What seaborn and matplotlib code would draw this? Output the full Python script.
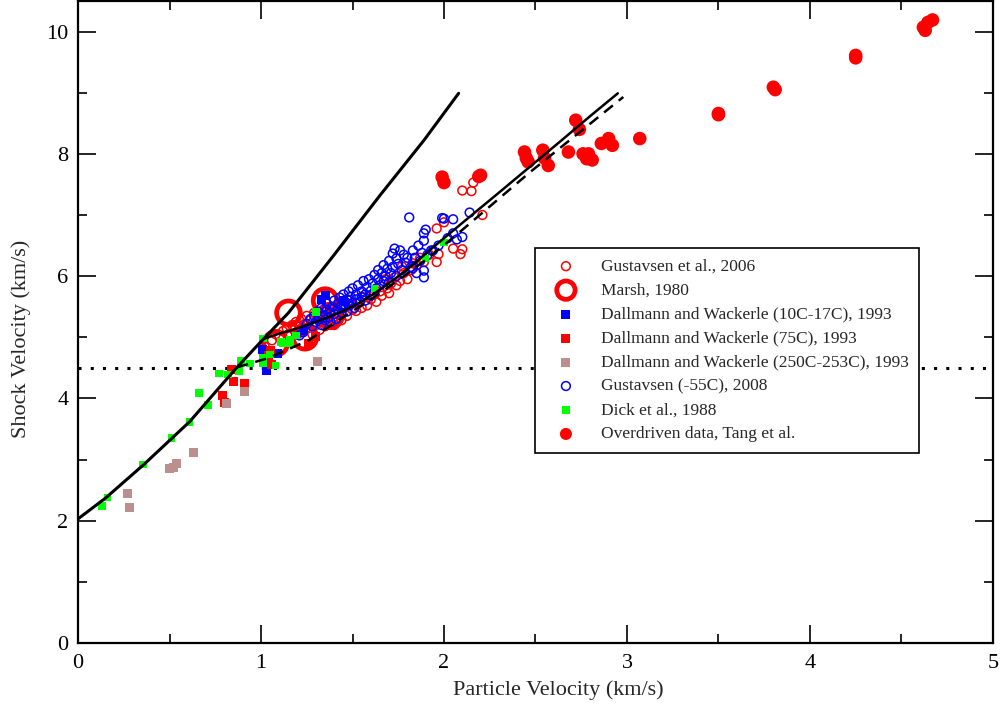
import numpy as np
import pandas as pd
import matplotlib
matplotlib.use("Agg")
import matplotlib.pyplot as plt
import seaborn as sns
from matplotlib.ticker import MultipleLocator

sns.set_theme(style="white")
plt.rcParams['font.family'] = ['Liberation Serif', 'DejaVu Serif']
plt.rcParams['mathtext.fontset'] = 'stix'

# ---------------- data ----------------
gus06_x = [1.02,1.06,1.08,1.10,1.12,1.14,1.15,1.17,1.18,1.19,1.20,1.21,1.22,1.23,1.24,1.25,1.26,1.27,1.28,1.29,
           1.30,1.31,1.32,1.33,1.34,1.35,1.36,1.37,1.38,1.39,1.40,1.42,1.44,1.45,1.47,1.48,1.50,1.52,1.53,1.55,
           1.56,1.58,1.60,1.62,1.63,1.65,1.66,1.68,1.69,1.70,1.71,1.73,1.74,1.76,1.77,1.78,1.80,1.82,1.83,1.85,
           1.87,1.89,1.92,1.96,1.96,1.97,2.00,2.05,2.09,2.10,2.10,2.15,2.16,2.21]
gus06_y = [4.85,4.95,5.05,5.00,5.10,5.15,5.05,5.20,5.12,5.25,5.05,5.18,5.30,5.10,5.22,5.35,5.15,5.28,5.05,5.40,
           5.20,5.32,5.12,5.25,5.45,5.18,5.35,5.22,5.50,5.30,5.20,5.38,5.28,5.50,5.35,5.60,5.45,5.43,5.55,5.48,
           5.65,5.52,5.62,5.70,5.58,5.75,5.68,5.95,5.80,5.72,5.88,5.98,5.85,5.92,6.16,6.05,5.95,6.10,6.21,6.18,
           6.30,6.23,6.35,6.23,6.78,6.36,6.88,6.45,6.36,6.44,7.40,7.39,7.53,7.00]

marsh_x = [1.15, 1.35, 1.38, 1.08, 1.24]
marsh_y = [5.40, 5.60, 5.35, 4.90, 5.00]

dw10_x = [1.01, 1.09, 1.03, 1.23, 1.35, 1.33, 1.45]
dw10_y = [4.80, 4.74, 4.46, 5.11, 5.69, 5.62, 5.60]

dw75_x = [0.84, 0.85, 0.91, 0.79, 0.80, 1.05, 1.06, 1.26, 1.04, 1.30]
dw75_y = [4.48, 4.28, 4.25, 4.04, 3.94, 4.79, 4.55, 4.90, 4.70, 5.02]

dw250_x = [1.31, 0.91, 0.81, 0.63, 0.54, 0.50, 0.52, 0.27, 0.28]
dw250_y = [4.61, 4.12, 3.92, 3.12, 2.94, 2.86, 2.87, 2.45, 2.21]

gus08_x = [1.21,1.23,1.25,1.27,1.28,1.29,1.30,1.31,1.32,1.33,1.33,1.34,1.35,1.36,1.36,1.37,1.38,1.38,1.39,1.40,
           1.40,1.41,1.42,1.42,1.43,1.44,1.44,1.45,1.45,1.46,1.47,1.47,1.48,1.48,1.49,1.50,1.50,1.51,1.52,1.52,
           1.53,1.54,1.55,1.55,1.56,1.57,1.57,1.58,1.59,1.60,1.60,1.61,1.62,1.63,1.64,1.64,1.65,1.66,1.67,1.67,
           1.68,1.69,1.70,1.70,1.71,1.72,1.72,1.73,1.74,1.74,1.75,1.76,1.77,1.78,1.79,1.80,1.81,1.82,1.83,1.83,
           1.84,1.85,1.86,1.87,1.88,1.89,1.89,1.89,1.89,1.90,1.91,1.93,1.94,1.97,1.99,2.00,2.02,2.05,2.05,2.07,
           2.10,2.14]
gus08_y = [5.03,5.08,5.22,5.30,5.18,5.35,5.25,5.42,5.30,5.20,5.48,5.36,5.28,5.45,5.55,5.33,5.40,5.25,5.50,5.38,
           5.60,5.30,5.45,5.55,5.65,5.40,5.52,5.48,5.70,5.58,5.42,5.62,5.75,5.52,5.66,5.56,5.80,5.48,5.70,5.62,
           5.85,5.58,5.75,5.66,5.92,5.70,5.60,5.82,5.95,5.76,5.68,5.88,6.02,5.80,5.95,6.10,5.85,6.05,5.92,6.18,
           6.00,6.12,5.90,6.25,6.05,6.37,6.15,6.45,6.29,6.00,6.20,6.42,6.10,6.35,6.22,6.30,6.96,6.15,6.42,6.13,
           6.30,6.05,6.50,6.25,6.38,6.58,6.70,5.98,6.09,6.76,6.35,6.42,6.42,6.50,6.95,6.94,6.62,6.93,6.70,6.60,
           6.64,7.04]

dick_x = [0.13,0.16,0.355,0.51,0.61,0.71,0.66,0.77,0.82,0.88,0.89,0.94,1.01,1.01,1.05,1.08,1.12,1.16,1.01,1.11,
          1.16,1.19,1.30,1.62,1.90,2.00]
dick_y = [2.24,2.38,2.92,3.35,3.61,3.89,4.09,4.41,4.39,4.45,4.61,4.57,4.58,4.67,4.72,4.54,4.90,4.90,4.98,4.92,
          4.96,5.03,5.41,5.80,6.29,6.55]

od_x = [4.645,4.67,4.62,4.63,4.25,4.25,3.80,3.81,3.50,3.50,3.07,2.90,2.92,2.86,2.79,2.76,2.78,2.81,2.68,2.72,
        2.74,2.54,2.55,2.57,2.44,2.45,2.46,2.20,2.19,1.99,2.00]
od_y = [10.15,10.19,10.07,10.02,9.61,9.57,9.09,9.05,8.66,8.64,8.25,8.25,8.14,8.17,8.00,8.00,7.92,7.90,8.03,8.55,
        8.40,8.06,7.93,7.81,8.03,7.93,7.87,7.65,7.63,7.62,7.53]

# model curves
hug1_x = [0.0, 0.15, 0.36, 0.61, 0.86, 1.00, 1.15, 1.40, 1.65, 1.89, 2.08]
hug1_y = [2.03, 2.37, 2.92, 3.62, 4.48, 4.93, 5.40, 6.35, 7.32, 8.22, 8.99]

hug2_x = [1.02, 1.10, 1.17, 1.26, 1.35, 1.44, 1.53, 1.62, 1.72, 1.82, 1.92, 2.10, 2.29, 2.47, 2.65, 2.80, 2.95]
hug2_y = [4.98, 5.06, 5.12, 5.21, 5.31, 5.42, 5.55, 5.72, 5.93, 6.16, 6.42, 6.87, 7.34, 7.79, 8.24, 8.62, 8.99]

hug3_x = [0.87, 1.04, 1.26, 1.44, 1.62, 1.80, 1.91, 2.07, 2.47, 2.98]
hug3_y = [4.51, 4.66, 4.95, 5.31, 5.66, 6.04, 6.29, 6.68, 7.70, 8.93]

cj_level = 4.5

# ---------------- figure ----------------
fig = plt.figure(figsize=(10.07, 7.09), dpi=100)
ax = fig.add_axes([0.0775, 0.0931, 0.9085, 0.9055])

RED, BLUE, GREEN, BROWN = "#ff0000", "#0000ff", "#00ff00", "#bc8f8f"

sns.scatterplot(x=gus06_x, y=gus06_y, ax=ax, marker='o', s=40, facecolors='none',
                edgecolors=RED, linewidths=1.1, label="Gustavsen et al., 2006", zorder=3)
sns.scatterplot(x=marsh_x, y=marsh_y, ax=ax, marker='o', s=290, facecolors='none',
                edgecolors=RED, linewidths=3.4, label="Marsh, 1980", zorder=3)
sns.scatterplot(x=dw10_x, y=dw10_y, ax=ax, marker='s', s=42, color=BLUE, edgecolor='none',
                linewidth=0, label="Dallmann and Wackerle (10C-17C), 1993", zorder=3)
sns.scatterplot(x=dw75_x, y=dw75_y, ax=ax, marker='s', s=42, color=RED, edgecolor='none',
                linewidth=0, label="Dallmann and Wackerle (75C), 1993", zorder=3)
sns.scatterplot(x=dw250_x, y=dw250_y, ax=ax, marker='s', s=42, color=BROWN, edgecolor='none',
                linewidth=0, label="Dallmann and Wackerle (250C-253C), 1993", zorder=3)
sns.scatterplot(x=gus08_x, y=gus08_y, ax=ax, marker='o', s=40, facecolors='none',
                edgecolors=BLUE, linewidths=1.1, label="Gustavsen (-55C), 2008", zorder=3)
sns.scatterplot(x=dick_x, y=dick_y, ax=ax, marker='s', s=30, color=GREEN, edgecolor='none',
                linewidth=0, label="Dick et al., 1988", zorder=3)
sns.scatterplot(x=od_x, y=od_y, ax=ax, marker='o', s=95, color=RED, edgecolor='none',
                linewidth=0, label="Overdriven data, Tang et al.", zorder=3)

sns.lineplot(x=hug1_x, y=hug1_y, ax=ax, color='black', linewidth=2.2, estimator=None,
             sort=False, zorder=4, legend=False)
sns.lineplot(x=hug2_x, y=hug2_y, ax=ax, color='black', linewidth=1.8, estimator=None,
             sort=False, zorder=4, legend=False)
sns.lineplot(x=hug3_x, y=hug3_y, ax=ax, color='black', linewidth=1.8, estimator=None,
             sort=False, zorder=4, legend=False, dashes=False)
ax.lines[-1].set_linestyle((0, (4.5, 3)))
ax.axhline(cj_level, color='black', linewidth=2.2, linestyle=(0, (1, 3)), zorder=2)

ax.set_xlim(0, 5)
ax.set_ylim(0, 10.5)
ax.xaxis.set_major_locator(MultipleLocator(1))
ax.xaxis.set_minor_locator(MultipleLocator(0.5))
ax.yaxis.set_major_locator(MultipleLocator(2))
ax.yaxis.set_minor_locator(MultipleLocator(1))
ax.tick_params(which='both', direction='in', top=True, right=True, bottom=True, left=True,
               labelsize=16, colors='black')
ax.tick_params(which='major', length=13, width=1.2)
ax.tick_params(axis='x', which='major', pad=8)
ax.tick_params(axis='y', which='major', pad=7)
ax.tick_params(which='minor', length=6.5, width=1.2)
for sp in ax.spines.values():
    sp.set_linewidth(1.6)
    sp.set_color('black')

ax.set_xlabel("Particle Velocity (km/s)", fontsize=16)
ax.set_ylabel("Shock Velocity (km/s)", fontsize=16)
ax.xaxis.set_label_coords(0.5246, -0.073)
ax.xaxis.label.set_va('center')
ax.yaxis.set_label_coords(-0.062, 0.4735)
ax.yaxis.label.set_va('center')

leg = ax.legend(loc='upper left', bbox_to_anchor=(0.4995, 0.615), fontsize=12.5,
                frameon=True, fancybox=False, framealpha=1, edgecolor='black',
                handletextpad=0.83, labelspacing=0.45, borderpad=0.6, handlelength=2.36,
                borderaxespad=0)
leg.get_frame().set_linewidth(1.2)
leg.set_zorder(5)
handles = leg.legend_handles
handles[1].set_sizes([175])
handles[7].set_sizes([75])

fig.savefig("out.png", dpi=100)
